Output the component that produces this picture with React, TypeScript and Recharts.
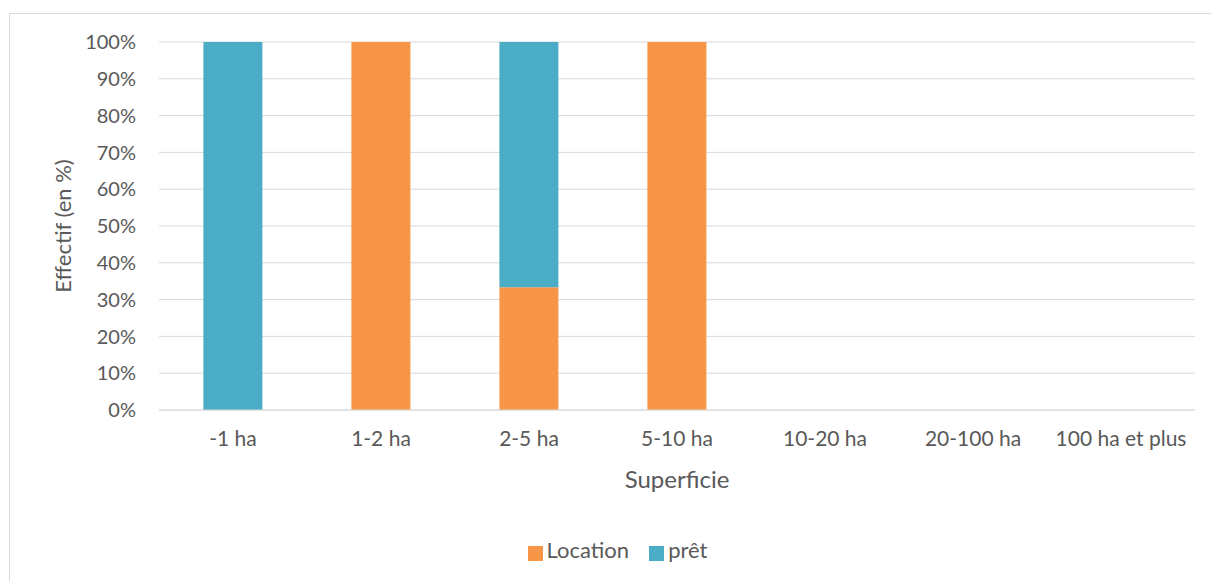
import { BarChart, Bar, XAxis, YAxis, CartesianGrid, Legend } from 'recharts';

const categories = ['-1 ha', '1-2 ha', '2-5 ha', '5-10 ha', '10-20 ha', '20-100 ha', '100 ha et plus'];
const location = [0, 100, 33.33, 100, 0, 0, 0];
const pret = [100, 0, 66.67, 0, 0, 0, 0];
const yTicks = [0, 10, 20, 30, 40, 50, 60, 70, 80, 90, 100];

const data = categories.map((name, i) => ({ name, location: location[i], pret: pret[i] }));

const FONT = 'Lato, "Open Sans", sans-serif';
const TEXT = '#595959';

export default function App() {
  return (
    <div style={{ position: 'absolute', left: 0, top: 0, width: 1211, height: 581, background: '#fff', fontFamily: FONT }}>
      <div style={{ position: 'absolute', left: 9, top: 13, width: 1210, height: 580, border: '1px solid #d9d9d9' }} />
      <BarChart
        width={1211}
        height={581}
        data={data}
        margin={{ top: 42, right: 16, left: 0, bottom: 18 }}
        barCategoryGap="30%"
      >
        <CartesianGrid vertical={false} stroke="#d9d9d9" />
        <XAxis
          dataKey="name"
          height={126}
          stroke="#d9d9d9"
          tickLine={false}
          tickSize={19}
          tickMargin={2}
          tick={{ fill: TEXT, fontSize: 21, fontFamily: FONT }}
          label={{ value: 'Superficie', position: 'insideTop', offset: 61, fill: TEXT, fontSize: 24, fontFamily: FONT }}
        />
        <YAxis
          width={159}
          domain={[0, 100]}
          ticks={yTicks}
          axisLine={false}
          tickLine={false}
          tickSize={21}
          tickFormatter={(v: number) => `${v}%`}
          tick={{ fill: TEXT, fontSize: 20, fontFamily: FONT }}
          label={{
            content: ({ viewBox }: any) => {
              const cx = viewBox.x + 62;
              const cy = viewBox.y + viewBox.height / 2;
              return (
                <text x={cx} y={cy} transform={`rotate(-90 ${cx} ${cy})`} textAnchor="middle" dominantBaseline="central" fill={TEXT} fontSize={22} fontFamily={FONT}>
                  Effectif (en %)
                </text>
              );
            },
          }}
        />
        <Legend
          verticalAlign="bottom"
          iconType="square"
          iconSize={15}
          wrapperStyle={{ left: 30 }}
          formatter={(value: string) => (
            <span style={{ color: TEXT, fontSize: 22, fontFamily: FONT, marginRight: 10 }}>{value}</span>
          )}
        />
        <Bar dataKey="location" name="Location" stackId="a" fill="#F79646" isAnimationActive={false} />
        <Bar dataKey="pret" name="prêt" stackId="a" fill="#4BACC6" isAnimationActive={false} />
      </BarChart>
    </div>
  );
}
